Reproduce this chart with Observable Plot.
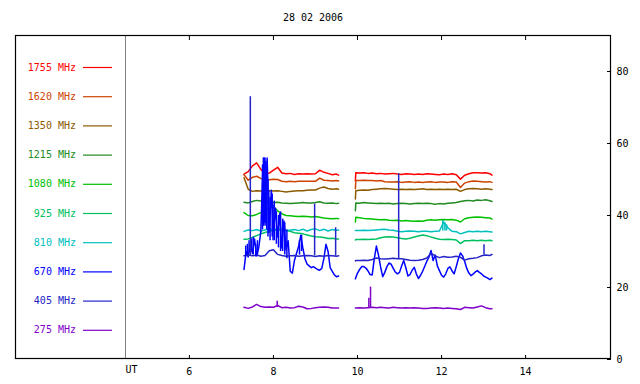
<!DOCTYPE html>
<html><head><meta charset="utf-8">
<script src="https://cdn.jsdelivr.net/npm/d3@7"></script>
<script src="https://cdn.jsdelivr.net/npm/@observablehq/plot@0.6"></script>
<style>
body{margin:0;background:#fff;}
#chart{width:640px;height:384px;}
</style></head><body><div id="chart"></div>
<script>
const title = "28 02 2006";
const freqs = ["1755","1620","1350","1215","1080","925","810","670","405","275"];
const colors = ["#ff0000","#cc4400","#8b5a00","#228b22","#00c000","#00c060","#00c0c0","#0000ff","#2424c8","#7f00c8"];
const xTicks = [6, 8, 10, 12, 14];
const yTicks = [0, 20, 40, 60, 80];
const xAxisName = "UT";

// sample times (UT hours)
const hoursA = [7.3,7.4,7.5,7.6,7.7,7.8,7.9,8.0,8.1,8.2,8.3,8.4,8.5,8.6,8.7,8.8,8.9,9.0,9.1,9.2,9.3,9.4,9.5,9.55];
const hoursB = [9.95,9.96,10.05,10.15,10.25,10.35,10.45,10.55,10.65,10.75,10.85,10.95,11.05,11.15,11.25,11.35,11.45,11.55,11.65,11.75,11.85,11.95,12.05,12.15,12.25,12.35,12.45,12.55,12.65,12.75,12.85,12.95,13.05,13.15,13.2];
const hoursFineA = d3.range(46).map(i => +(7.30 + 0.05 * i).toFixed(2));
const hoursFineB = d3.range(66).map(i => +(9.95 + 0.05 * i).toFixed(2));

// segment 1 (morning) values
const a1755 = [51.5,52.2,53.8,54.6,52.8,51.7,51.8,52.6,53.4,51.8,51.6,51.7,51.4,51.6,51.5,51.6,51.5,51.6,52.6,52.0,51.7,51.3,51.5,51.2];
const a1620 = [51.3,49.8,50.6,50.9,50.3,50.0,49.9,50.1,50.0,49.5,49.4,49.5,49.4,49.5,49.5,49.5,49.5,49.5,50.4,49.8,49.7,49.6,49.7,49.6];
const a1350 = [50.5,47.3,46.7,46.9,46.8,47.0,46.9,46.8,46.9,46.7,46.5,46.7,46.8,46.9,46.9,47.0,47.1,47.1,47.6,47.9,47.5,47.3,47.4,47.3];
const a1215 = [43.7,43.5,43.9,44.2,44.0,43.8,43.7,43.6,43.7,43.5,43.4,43.3,43.4,43.5,43.6,43.5,43.5,43.6,43.8,43.5,43.4,43.5,43.3,43.4];
const a1080 = [40.8,40.0,39.9,40.3,40.8,41.5,42.0,42.4,41.3,40.5,40.0,39.9,39.8,39.7,39.8,39.7,39.6,39.7,39.5,39.3,39.2,39.1,39.2,39.1];
const a925  = [33.4,33.5,33.9,34.4,34.9,35.3,35.6,35.8,36.0,35.9,35.8,35.6,35.2,35.1,34.9,34.6,34.3,34.1,34.0,33.9,33.6,33.7,33.5,33.5];
const a810  = [35.6,36.0,35.8,36.1,35.7,36.0,36.3,36.0,36.2,36.4,36.0,35.9,36.1,35.8,36.2,35.7,36.1,36.3,35.8,36.2,35.7,36.1,35.9,36.0];
const a670  = [25.0,30.0,28.5,32.0,29.5,33.5,28.8,31.0,35.5,54.0,38.0,56.0,36.0,47.0,35.5,42.0,34.0,40.5,31.0,38.5,30.5,33.0,24.5,24.0,27.5,29.5,31.5,34.5,31.0,28.0,26.5,26.0,25.5,25.8,25.4,25.0,24.8,25.3,28.0,32.0,30.0,25.5,24.5,23.5,23.0,23.2];
const a405  = [28.8,29.0,28.8,29.0,28.7,28.9,30.2,30.5,29.2,28.9,28.7,28.8,28.9,28.7,28.8,28.9,28.8,28.6,28.8,28.7,28.9,28.8,28.7,28.8];
const a275  = [14.5,14.2,14.6,15.3,14.7,14.5,14.6,14.5,15.0,14.4,14.5,14.3,14.4,14.8,14.6,14.1,14.2,14.4,14.5,14.6,14.5,14.3,14.3,14.3];

// segment 2 (afternoon) values
const b1755 = [49.6,51.9,51.8,51.9,51.7,51.8,51.6,51.7,51.5,51.6,51.7,51.5,51.4,51.6,51.5,51.4,51.5,51.4,51.6,51.5,51.4,51.3,51.5,51.4,51.6,51.3,50.1,51.2,51.6,51.9,51.9,51.8,51.9,51.6,51.2];
const b1620 = [47.4,49.7,49.7,49.8,49.7,49.7,49.6,49.7,49.4,49.3,49.3,49.4,49.2,49.3,49.4,49.2,49.3,49.2,49.3,49.4,49.2,49.3,49.3,49.2,49.4,49.3,47.8,49.0,49.4,49.6,49.5,49.4,49.3,49.4,49.2];
const b1350 = [44.6,46.9,47.0,47.1,47.0,47.2,47.3,47.4,47.5,47.4,47.3,47.2,47.3,47.2,47.3,47.2,47.3,47.4,47.2,47.3,47.2,47.3,47.2,47.3,47.2,47.3,46.7,47.2,47.4,47.5,47.4,47.3,47.4,47.3,47.2];
const b1215 = [41.3,43.5,43.4,43.6,43.5,43.4,43.3,43.4,43.3,43.4,43.2,43.3,43.4,43.3,43.2,43.3,43.4,43.3,43.4,43.3,43.1,43.3,43.2,43.4,43.5,43.6,43.9,44.1,44.2,44.0,44.3,44.2,44.4,44.1,43.9];
const b1080 = [38.2,39.5,39.4,39.2,39.1,39.0,38.9,38.8,38.9,38.7,38.6,38.7,38.5,38.6,38.5,38.4,38.5,38.4,38.7,38.8,38.7,38.8,38.9,38.8,38.9,38.7,38.2,39.1,39.4,39.5,39.6,39.5,39.4,39.3,39.0];
const b925  = [33.2,33.3,33.3,33.4,33.3,33.4,33.5,33.8,34.0,34.1,34.0,33.8,33.6,33.5,33.7,34.0,34.3,34.6,34.4,34.0,33.7,33.4,33.3,33.4,33.3,33.2,32.2,33.0,33.0,33.1,33.0,33.1,33.0,33.1,33.0];
const b810  = [35.8,35.8,35.8,35.9,35.8,35.9,36.0,36.1,36.2,36.0,35.9,35.6,35.5,35.6,35.7,35.6,35.5,35.6,35.6,35.5,35.6,35.7,38.2,36.6,35.6,35.5,34.9,35.3,35.6,35.5,35.6,35.5,35.6,35.5,35.4];
const b670  = [22.4,24.0,25.0,25.8,25.8,25.4,24.6,23.6,23.5,28.0,31.5,29.0,25.7,23.0,24.2,25.8,26.8,26.5,25.3,24.3,23.8,24.2,26.0,27.5,25.5,23.2,23.6,24.8,25.6,23.8,22.5,23.4,24.5,25.9,27.3,28.4,30.3,27.5,29.0,26.0,24.7,23.4,22.9,23.8,25.3,25.7,24.6,23.8,25.8,28.0,29.6,28.8,27.2,25.3,24.0,23.3,23.7,24.3,24.7,24.2,23.8,23.2,22.9,22.6,22.2,22.6];
const b405  = [27.4,27.5,27.5,27.6,27.5,27.8,28.2,28.0,27.9,28.0,28.1,28.0,28.0,27.8,27.6,27.5,27.6,27.8,28.2,29.5,28.8,28.3,28.6,28.4,28.5,28.7,28.4,27.6,28.0,28.1,28.3,28.8,29.0,28.9,29.2];
const b275  = [14.3,14.3,14.4,14.3,14.4,14.5,14.4,14.5,14.4,14.3,14.5,14.4,14.3,14.4,14.3,14.4,14.3,14.2,14.2,14.3,14.4,14.3,14.2,14.3,14.2,14.1,13.9,14.5,14.4,14.3,14.6,14.9,14.4,14.1,14.1];

// short bursts (spikes)
const spikeFreq = ["405","405","405","405","405","275","275","275","810","810","810"];
const spikeHour = [7.45, 8.98, 9.48, 10.98, 13.01, 8.09, 10.27, 10.31, 12.03, 12.08, 12.12];
const spikeBase = [28.9, 28.8, 28.7, 28.0, 29.0, 14.5, 14.4, 14.4, 35.7, 35.7, 35.7];
const spikeTop  = [73.0, 43.2, 36.6, 51.6, 31.9, 16.2, 17.0, 20.1, 38.6, 37.9, 37.4];

// 670 MHz dense burst envelope (fast fluctuation ranges)
const burstHour = [7.34,7.38,7.42,7.48,7.52,7.58,7.62,7.74,7.76,7.78,7.80,7.82,7.84,7.87,7.89,7.92,7.97,7.99,8.02,8.07,8.12,8.17,8.22,8.27,8.32,8.62,8.67];
const burstLow  = [28.5,29.0,29.5,30.0,29.0,28.5,29.0,36.0,37.0,38.0,37.0,38.0,36.0,34.0,35.0,33.0,34.0,33.0,33.0,32.0,31.0,30.0,30.0,29.0,28.0,29.0,30.0];
const burstHigh = [31.5,32.0,33.0,33.5,34.0,32.0,33.0,54.0,56.0,56.0,56.0,55.0,52.0,50.0,47.0,45.0,46.0,43.0,44.0,41.0,40.0,41.0,39.0,38.0,36.0,33.0,34.5];

const series = {
  "1755": [[hoursA,a1755],[hoursB,b1755]],
  "1620": [[hoursA,a1620],[hoursB,b1620]],
  "1350": [[hoursA,a1350],[hoursB,b1350]],
  "1215": [[hoursA,a1215],[hoursB,b1215]],
  "1080": [[hoursA,a1080],[hoursB,b1080]],
  "925":  [[hoursA,a925],[hoursB,b925]],
  "810":  [[hoursA,a810],[hoursB,b810]],
  "670":  [[hoursFineA,a670],[hoursFineB,b670]],
  "405":  [[hoursA,a405],[hoursB,b405]],
  "275":  [[hoursA,a275],[hoursB,b275]]
};
const rows = [];
for (const f of freqs) {
  series[f].forEach(([hrs, vals], s) => {
    hrs.forEach((t, i) => rows.push({freq: f, seg: f + "-" + s, t, v: vals[i]}));
  });
}
const spikes = spikeFreq.map((f, i) => ({freq: f, t: spikeHour[i], base: spikeBase[i], top: spikeTop[i]}));
const bursts = burstHour.map((t, i) => ({freq: "670", t, base: burstLow[i], top: burstHigh[i]}));

const xDomain = [4.48, 16.02];
const yDomain = [0, 90];

const chart = Plot.plot({
  width: 640, height: 384,
  marginLeft: 125, marginRight: 30, marginTop: 35, marginBottom: 25,
  style: {fontFamily: "'DejaVu Sans Mono', monospace", fontSize: "10px", background: "#fff", color: "#000"},
  x: {domain: xDomain, label: null},
  y: {domain: yDomain, label: null},
  color: {domain: freqs, range: colors},
  marks: [
    Plot.ruleX([xDomain[0]], {stroke: "#808080"}),
    Plot.axisX(xTicks, {anchor: "bottom", tickSize: -4, tickPadding: 12, label: null, stroke: "#000"}),
    Plot.axisX(xTicks, {anchor: "top", tickSize: -4, tickFormat: () => "", label: null, stroke: "#000"}),
    Plot.axisY(yTicks, {anchor: "right", tickSize: -4, tickPadding: 10, label: null, stroke: "#000"}),
    Plot.text([xAxisName], {frameAnchor: "bottom-left", dy: 6, lineAnchor: "top", fill: "#000"}),
    Plot.line(rows, {x: "t", y: "v", z: "seg", stroke: "freq", strokeWidth: 1.5, curve: "linear"}),
    Plot.ruleX(bursts, {x: "t", y1: "base", y2: "top", stroke: "freq", strokeWidth: 1.5}),
    Plot.ruleX(spikes, {x: "t", y1: "base", y2: "top", stroke: "freq", strokeWidth: 1.5})
  ]
});

const svg = d3.select(chart);
// outer frame (legend panel + plot area)
svg.append("rect").attr("x", 15.5).attr("y", 35.5).attr("width", 595).attr("height", 323)
  .attr("fill", "none").attr("stroke", "#000").attr("stroke-width", 1.2);
// title
svg.append("text").attr("x", 313).attr("y", 18).attr("text-anchor", "middle")
  .attr("dominant-baseline", "middle").attr("fill", "#000").text(title);
// legend
const lg = svg.append("g");
freqs.forEach((f, i) => {
  const y = 67.5 + 29.2 * i;
  lg.append("text").attr("x", 76).attr("y", y).attr("text-anchor", "end")
    .attr("dominant-baseline", "middle").attr("fill", colors[i]).text(f + " MHz");
  lg.append("line").attr("x1", 83).attr("x2", 112).attr("y1", y).attr("y2", y)
    .attr("stroke", colors[i]).attr("stroke-width", 1.2);
});
document.getElementById("chart").append(chart);
</script>
</body></html>
